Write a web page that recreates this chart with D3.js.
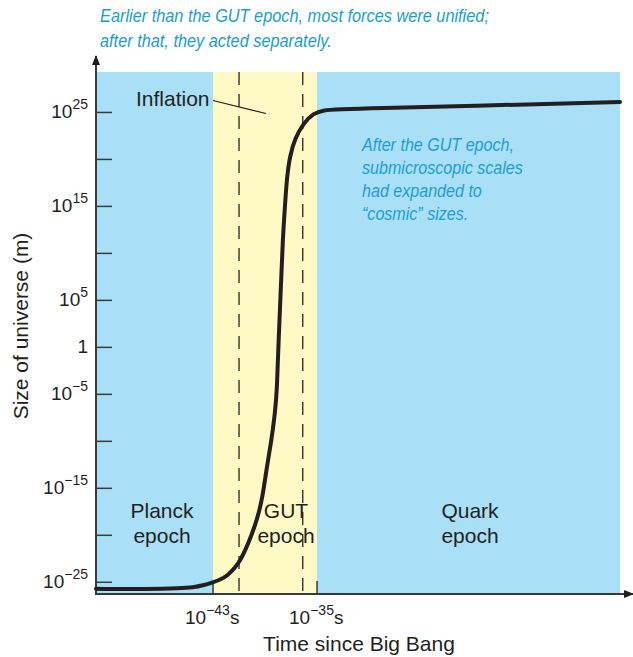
<!DOCTYPE html>
<html>
<head>
<meta charset="utf-8">
<script src="https://cdn.jsdelivr.net/npm/d3@7"></script>
<style>
  body { margin: 0; background: #fff; }
  svg { display: block; }
  text { font-family: "Liberation Sans", Arial, Helvetica, sans-serif; fill: #231f20; }
  .note { font-family: "Liberation Sans", Arial, sans-serif; font-style: italic; fill: #1b9dd6; }
</style>
</head>
<body>
<svg id="chart" width="633" height="657"></svg>
<script>
// ---- data (log10 values) ----
const timeExp = [-52, -48, -45.5, -44.5, -43.8, -43, -42.4, -41.9, -41.3, -40.9, -40.5, -40.0, -39.6, -39.2, -38.9, -38.5, -38.23, -38.08, -37.96, -37.79, -37.64, -37.46, -37.33, -37.08, -36.69, -36.05, -35.28, -34.51, -33.23, -11.7];
const sizeExp = [-25.75, -25.78, -25.7, -25.6, -25.4, -25.05, -24.75, -24.35, -23.5, -22.7, -21.6, -19.9, -18.3, -16.1, -13.1, -9.9, -7.0, -4.6, 0.7, 6.0, 11.4, 15.1, 17.9, 20.4, 22.2, 23.8, 24.85, 25.2, 25.3, 26.05];
const yTickExp = [-25, -20, -15, -10, -5, 0, 5, 10, 15, 20, 25];
const yLabelExp = [-25, -15, -5, 0, 5, 15, 25];
const xTickExp = [-43, -35];
const epochNames = ["Planck", "GUT", "Quark"];
const epochStart = [-52, -43, -35];
const epochEnd = [-43, -35, -11.7];
const dashedExp = [-41, -36.1];
const topNote = ["Earlier than the GUT epoch, most forces were unified;", "after that, they acted separately."];
const rightNote = ["After the GUT epoch,", "submicroscopic scales", "had expanded to", "\u201Ccosmic\u201D sizes."];

(function () {
const svg = d3.select("#chart");
const L = 96, R = 620, T = 72, B = 594;
const x = d3.scaleLinear().domain([-52, -11.7]).range([L, R]);
const y = d3.scaleLinear().domain([-26.3, 29.25]).range([B, T]);

const blue = "#aadff8", yellow = "#fff9c5", dark = "#231f20", axisCol = "#3a3a3a";

// epoch bands
svg.selectAll("rect.band").data(epochNames).join("rect")
  .attr("x", (d, i) => x(epochStart[i]))
  .attr("y", T)
  .attr("width", (d, i) => x(epochEnd[i]) - x(epochStart[i]))
  .attr("height", B - T)
  .attr("fill", d => d === "GUT" ? yellow : blue);

// dashed lines
svg.selectAll("line.dash").data(dashedExp).join("line")
  .attr("x1", d => x(d)).attr("x2", d => x(d))
  .attr("y1", T).attr("y2", B)
  .attr("stroke", "#333").attr("stroke-width", 1.4)
  .attr("stroke-dasharray", "13,9");

// bottom ticks at epoch boundaries
svg.selectAll("line.xt").data(xTickExp).join("line")
  .attr("x1", d => x(d)).attr("x2", d => x(d))
  .attr("y1", B - 13).attr("y2", B)
  .attr("stroke", axisCol).attr("stroke-width", 1.5);

// y axis ticks
const yAxis = d3.axisLeft(y).tickValues(yTickExp).tickSizeInner(-16).tickSizeOuter(0).tickPadding(8).tickFormat("");
const gy = svg.append("g").attr("transform", `translate(${L},0)`).call(yAxis);
gy.select(".domain").remove();
gy.selectAll(".tick line").attr("stroke", axisCol).attr("stroke-width", 1.5);

// y labels
const yl = svg.append("g");
yLabelExp.forEach(e => {
  const t = yl.append("text").attr("x", 88).attr("y", y(e) + 6).attr("text-anchor", "end").attr("font-size", 19);
  if (e === 0) { t.text("1"); }
  else {
    t.append("tspan").text("10");
    t.append("tspan").attr("dy", -9).attr("font-size", 14).text(e < 0 ? "\u2212" + (-e) : e);
  }
});

// x labels
xTickExp.forEach(e => {
  const t = svg.append("text").attr("x", x(e) - 28).attr("y", 624).attr("font-size", 19);
  t.append("tspan").text("10");
  t.append("tspan").attr("dy", -9).attr("font-size", 14).text("\u2212" + (-e));
  t.append("tspan").attr("dy", 9).text("s");
});

// axes lines with arrows
const defs = svg.append("defs");
defs.append("marker").attr("id", "arr").attr("viewBox", "0 0 10 10").attr("refX", 9).attr("refY", 5)
  .attr("markerWidth", 10).attr("markerHeight", 10).attr("markerUnits", "userSpaceOnUse").attr("orient", "auto")
  .append("path").attr("d", "M0,1 L10,5 L0,9 Z").attr("fill", dark);
svg.append("line").attr("x1", L).attr("x2", L).attr("y1", B + 1).attr("y2", 56)
  .attr("stroke", axisCol).attr("stroke-width", 2).attr("marker-end", "url(#arr)");
svg.append("line").attr("x1", L - 1).attr("x2", 633).attr("y1", B).attr("y2", B)
  .attr("stroke", axisCol).attr("stroke-width", 2).attr("marker-end", "url(#arr)");

// curve
const pts = timeExp.map((t, i) => [t, sizeExp[i]]);
svg.append("path").datum(pts)
  .attr("d", d3.line().x(d => x(d[0])).y(d => y(d[1])).curve(d3.curveBasis))
  .attr("fill", "none").attr("stroke", dark).attr("stroke-width", 4).attr("stroke-linecap", "round");

// epoch labels
const epochLabelX = [162, 286, 470];
epochNames.forEach((n, i) => {
  svg.append("text").attr("x", epochLabelX[i]).attr("y", 518).attr("text-anchor", "middle").attr("font-size", 21).text(n);
  svg.append("text").attr("x", epochLabelX[i]).attr("y", 543).attr("text-anchor", "middle").attr("font-size", 21).text("epoch");
});

// Inflation label
svg.append("text").attr("x", 136).attr("y", 106).attr("font-size", 21).text("Inflation");
svg.append("line").attr("x1", 213).attr("y1", 100.5).attr("x2", 266).attr("y2", 113.5)
  .attr("stroke", dark).attr("stroke-width", 1.2);

// notes (condensed italic: Arial italic squeezed horizontally)
function note(lines, x0, y0, lh, fs, targetW0) {
  const g = svg.append("g");
  const ts = lines.map((s, i) => g.append("text").attr("class", "note").attr("x", 0).attr("y", i * lh).attr("font-size", fs).text(s));
  const w0 = ts[0].node().getComputedTextLength();
  const sx = targetW0 / w0;
  g.attr("transform", `translate(${x0},${y0}) scale(${sx},1)`);
}
note(topNote, 100, 22, 25, 18.5, 389);
note(rightNote, 362, 151, 23, 17.5, 152);

// axis titles
svg.append("text").attr("transform", "translate(28,326) rotate(-90)").attr("text-anchor", "middle").attr("font-size", 21).text("Size of universe (m)");
svg.append("text").attr("x", 359).attr("y", 651).attr("text-anchor", "middle").attr("font-size", 21).text("Time since Big Bang");
})();
</script>
</body>
</html>
